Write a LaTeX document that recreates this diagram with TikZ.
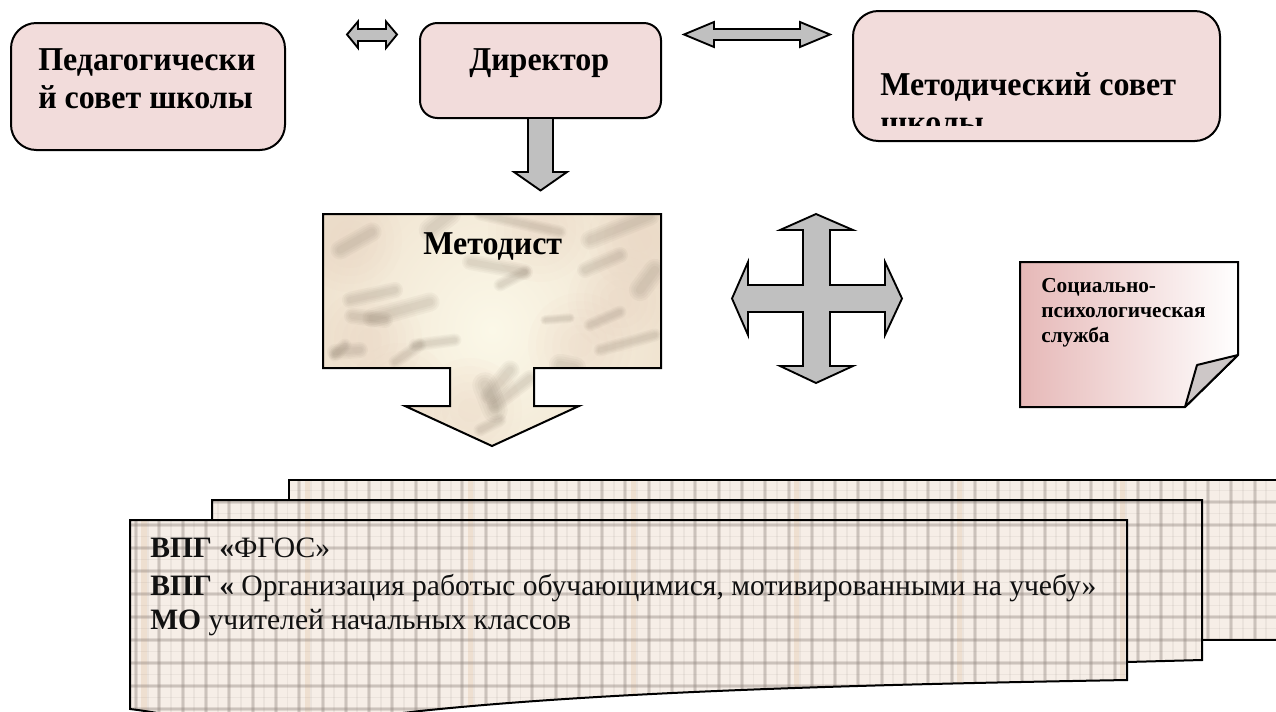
\documentclass[tikz,border=0pt]{standalone}
\usepackage{fontspec}
\setmainfont{Liberation Serif}
\newfontfamily\headfont[FakeStretch=0.96]{Liberation Serif}
\tikzset{
  pxgrid/.style={x=0.75pt,y=-0.75pt},
  outline/.style={draw=black,line width=1.5pt,line join=miter},
  pinkbox/.style={outline,fill=boxpink,rounded corners=19pt},
  blockarrow/.style={outline,fill=arrowgray,line width=1.4pt},
  heading/.style={anchor=base west,inner sep=0pt,font=\headfont\fontsize{25}{29}\selectfont\bfseries},
  bodyline/.style={anchor=base west,inner sep=0pt,text=textdark,font=\fontsize{22.2}{26}\selectfont},
  smallline/.style={anchor=base west,inner sep=0pt,font=\fontsize{16}{19}\selectfont\bfseries},
  plaidmain/.style={plaidgray,opacity=.22,line width=3pt},
  plaidcore/.style={plaidgray,opacity=.24,line width=1.5pt},
  plaidthin/.style={plaidgray,opacity=.10,line width=1.4pt},
  plaidwarm/.style={plaidtan,opacity=.40,line width=4pt},
  streak/.style={marbledark,line cap=round,opacity=.05},
  blotch/.style={marblepink,opacity=.06},
}
\definecolor{boxpink}{HTML}{F2DCDB}
\definecolor{arrowgray}{HTML}{C0C0C0}
\definecolor{notepink}{HTML}{E6B8B7}
\definecolor{foldgray}{HTML}{CDC7C7}
\definecolor{paperbase}{HTML}{F6EEE7}
\definecolor{plaidgray}{HTML}{8F837C}
\definecolor{plaidtan}{HTML}{E2C9AE}
\definecolor{marblebase}{HTML}{EFE2CF}
\definecolor{marblelight}{HTML}{FBF8E8}
\definecolor{marbledark}{HTML}{6E6050}
\definecolor{marblepink}{HTML}{EBCDBB}
\definecolor{textdark}{HTML}{111111}
\newcommand{\plaidfill}{%
  \fill[paperbase] (120,470) rectangle (1290,730);
  \foreach \px in {-34,...,16} {
    \draw[plaidthin] ({905+11.6+\px*23.3},470) -- ({905+11.6+\px*23.3},730);
    \draw[plaidmain] ({905+\px*23.3},470) -- ({905+\px*23.3},730);
    \draw[plaidcore] ({905+\px*23.3},470) -- ({905+\px*23.3},730);
  }
  \foreach \px in {-33,-26,...,16} {
    \draw[plaidwarm] ({905+8+\px*23.3},470) -- ({905+8+\px*23.3},730);
  }
  \foreach \py in {-1,...,10} {
    \draw[plaidthin] (120,{502+11.5+\py*23}) -- (1290,{502+11.5+\py*23});
    \draw[plaidmain] (120,{502+\py*23}) -- (1290,{502+\py*23});
    \draw[plaidcore] (120,{502+\py*23}) -- (1290,{502+\py*23});
  }
}
\begin{document}
\begin{tikzpicture}[pxgrid]
\useasboundingbox (0,0) rectangle (1276,711);
\begin{scope}
\clip (0,0) rectangle (1276,711);

% top boxes
\draw[pinkbox] (11,23) rectangle (285,150);
\node[heading] (pedA) at (38,70) {Педагогически};
\node[heading] (pedB) at (38,108) {й совет школы};

\draw[pinkbox,rounded corners=13pt] (420,23) rectangle (661,118);
\node[heading] (dir) at (469,70) {Директор};

\draw[pinkbox] (853,11) rectangle (1220,141);
\node[heading] (metA) at (880,95) {Методический совет};
\begin{scope}
  \clip (860,100) rectangle (1200,125);
  \node[heading] (metB) at (880,133) {школы};
\end{scope}

% block arrows, top row
\draw[blockarrow] (347,34.5) -- (358,21.5) -- (358,29) -- (386,29) -- (386,21.5) -- (397,34.5) -- (386,48) -- (386,41) -- (358,41) -- (358,48) -- cycle;
\draw[blockarrow] (684,34.5) -- (714,22) -- (714,29) -- (800,29) -- (800,22) -- (830,34.5) -- (800,47) -- (800,40) -- (714,40) -- (714,47) -- cycle;
\draw[blockarrow] (528,118) -- (553,118) -- (553,172) -- (567,172) -- (540.5,190.5) -- (514,172) -- (528,172) -- cycle;

% Методист callout
\begin{scope}
  \clip (323,214) -- (661,214) -- (661,368) -- (534,368) -- (534,406) -- (579,406) -- (492,446) -- (405,406) -- (450,406) -- (450,368) -- (323,368) -- cycle;
  \shade[inner color=marblelight,outer color=marblebase,shading=radial] (310,130) rectangle (674,530);
  \foreach \cx/\cy in {580/345, 400/395, 350/240, 640/240, 540/230, 620/300, 370/340, 470/410}
    \foreach \rad in {12,20,...,52}
      \fill[blotch] (\cx,\cy) circle[radius=\rad];
  \foreach \ax/\ay/\bx/\by/\wd in {
    340/250/372/232/6, 350/300/395/290/5, 352/316/385/320/5, 372/318/430/302/6,
    335/352/360/350/5, 430/230/450/214/7, 470/262/525/272/5, 500/285/525/272/4,
    415/345/455/340/4, 490/395/510/370/6, 485/385/495/410/8, 495/405/530/378/5,
    545/320/570/318/3, 590/325/620/312/4, 585/270/620/255/5, 590/240/650/216/6,
    640/290/655/270/7, 560/365/575/368/7, 335/355/345/345/4, 395/362/420/345/4,
    480/214/560/232/4, 600/350/655/335/4, 480/430/500/420/4}
  {
    \draw[streak,line width={\wd*2.4pt}] (\ax,\ay) -- (\bx,\by);
    \draw[streak,line width={\wd*1.9pt}] (\ax,\ay) -- (\bx,\by);
    \draw[streak,line width={\wd*1.4pt}] (\ax,\ay) -- (\bx,\by);
    \draw[streak,line width={\wd*0.9pt}] (\ax,\ay) -- (\bx,\by);
  }
\end{scope}
\draw[outline] (323,214) -- (661,214) -- (661,368) -- (534,368) -- (534,406) -- (579,406) -- (492,446) -- (405,406) -- (450,406) -- (450,368) -- (323,368) -- cycle;
\node[heading] (methodist) at (423,254) {Методист};

% cross arrow
\draw[blockarrow] (816,214) -- (853,230) -- (830,230) -- (830,285) -- (885,285) -- (885,262) -- (902,298.5) -- (885,335) -- (885,312) -- (830,312) -- (830,366) -- (853,366) -- (816,383) -- (780,366) -- (803,366) -- (803,312) -- (748,312) -- (748,335) -- (732,298.5) -- (748,262) -- (748,285) -- (803,285) -- (803,230) -- (780,230) -- cycle;

% folded note
\path[outline,left color=notepink,right color=white] (1020,262) -- (1238,262) -- (1238,355) -- (1185,407) -- (1020,407) -- cycle;
\draw[outline,line join=bevel,fill=foldgray] (1238,355) -- (1197,365) -- (1185,407) -- cycle;
\node[smallline] (socA) at (1041,292) {Социально-};
\node[smallline] (socB) at (1041,317) {психологическая};
\node[smallline] (socC) at (1041,342) {служба};

% stacked papers
\begin{scope}
  \clip (289,480) -- (1290,480) -- (1290,640) -- (289,640) -- cycle;
  \plaidfill
\end{scope}
\draw[outline] (289,520) -- (289,480) -- (1290,480) (1290,640) -- (1202,640);
\begin{scope}
  \clip (212,500) -- (1202,500) -- (1202,660) -- (1127,662) -- (212,662) -- cycle;
  \plaidfill
\end{scope}
\draw[outline] (212,520) -- (212,500) -- (1202,500) -- (1202,660) -- (1127,662);
\begin{scope}
  \clip (130,520) -- (1127,520) -- (1127,680) .. controls (900,684) and (620,690) .. (420,711) -- (300,725) .. controls (230,730) and (180,715) .. (130,709) -- cycle;
  \plaidfill
\end{scope}
\draw[outline] (130,520) -- (1127,520) -- (1127,680) .. controls (900,684) and (620,690) .. (420,711) -- (300,725) .. controls (230,730) and (180,715) .. (130,709) -- cycle;
\node[bodyline] (vpgA) at (150,557) {\textbf{ВПГ «}ФГОС»};
\node[bodyline] (vpgB) at (150,595) {\textbf{ВПГ «} Организация работыс обучающимися, мотивированными на учебу»};
\node[bodyline] (mo) at (150,629) {\textbf{МО} учителей начальных классов};
\end{scope}
\end{tikzpicture}
\end{document}
